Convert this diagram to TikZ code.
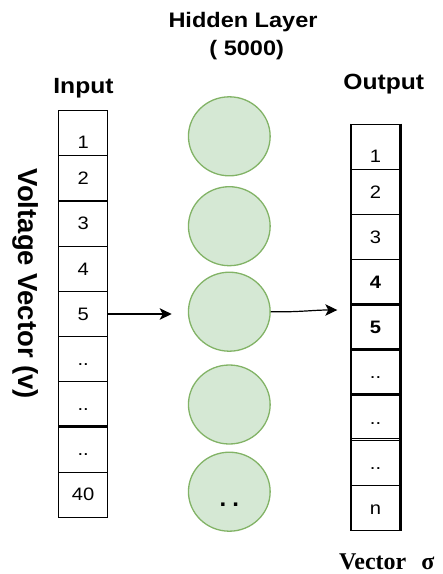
\documentclass[tikz,border=0pt]{standalone}
\usepackage{fontspec}
\setmainfont{Liberation Sans}
\newfontfamily\serifb{Liberation Serif}
\usepackage{graphicx}
\usetikzlibrary{shapes.geometric,arrows.meta}
\definecolor{nfill}{HTML}{D5E8D4}
\definecolor{nline}{HTML}{82B366}
\newcommand{\hs}[1]{\scalebox{1.12}[1]{#1}}
\tikzset{
  cell/.style={draw, line width=1.2pt, minimum width=49pt, minimum height=45.18pt,
    inner sep=0pt, font=\fontsize{18}{18}\selectfont, text height=12.5pt, text depth=0pt},
  firstcell/.style={cell, text height=31pt},
  neuron/.style={ellipse, draw=nline, fill=nfill, line width=1.3pt,
    minimum width=81.7pt, minimum height=79pt, inner sep=0pt},
  arr/.style={line width=1.2pt, -{Stealth[length=12pt,width=11.5pt,inset=3pt]}},
  head/.style={font=\fontsize{22}{22}\selectfont\bfseries, inner sep=0pt, anchor=base},
  thickline/.style={line width=2.2pt},
}
\begin{document}
\begin{tikzpicture}[x=1pt,y=-1pt]
\useasboundingbox (0,0) rectangle (443,574);

% titles
\node[head, font=\fontsize{21}{21}\selectfont\bfseries] (hl) at (243,27.7) {\hs{Hidden Layer}};
\node[head, font=\fontsize{21}{21}\selectfont\bfseries] (hn) at (246.7,55) {\hs{( 5000)}};
\node[head] (tin) at (83.5,93.3) {\hs{Input}};
\node[head] (tout) at (383.8,89.3) {\hs{Output}};
\node[font=\fontsize{27.5}{27.5}\selectfont\bfseries, rotate=-90, inner sep=0pt] (vv) at (26,284) {Voltage Vector (v)};
\node[font=\fontsize{24}{24}\selectfont\serifb\bfseries, anchor=base west, inner sep=0pt, text depth=0pt] (vs) at (339,569.5) {Vector\hspace{15pt}σ};

% input column
\node[firstcell] (in1) at (83.2,133.29) {\hs{1}};
\node[cell] (in2) at (83.2,178.47) {\hs{2}};
\node[cell] (in3) at (83.2,223.65) {\hs{3}};
\node[cell] (in4) at (83.2,268.83) {\hs{4}};
\node[cell] (in5) at (83.2,314.01) {\hs{5}};
\node[cell] (in6) at (83.2,359.19) {\hs{..}};
\node[cell] (in7) at (83.2,404.37) {\hs{..}};
\node[cell] (in8) at (83.2,449.55) {\hs{..}};
\node[cell] (in9) at (83.2,494.73) {\hs{40}};
\draw[thickline] (in8.north west) -- (in8.north east);

% output column
\node[firstcell] (out1) at (375.5,146.88) {\hs{1}};
\node[cell] (out2) at (375.5,192.03) {\hs{2}};
\node[cell] (out3) at (375.5,237.18) {\hs{3}};
\node[cell] (out4) at (375.5,282.33) {\hs{\textbf{4}}};
\node[cell] (out5) at (375.5,327.48) {\hs{\textbf{5}}};
\node[cell] (out6) at (375.5,372.63) {\hs{..}};
\node[cell] (out7) at (375.5,417.78) {\hs{..}};
\node[cell] (out8) at (375.5,462.93) {\hs{..}};
\node[cell] (out9) at (375.5,508.08) {\hs{n}};
\draw[thickline] (out5.north west) -- (out5.north east);
\draw[thickline] (out6.north west) -- (out6.north east);
\draw[thickline] (out7.north west) -- (out7.north east);
\draw[line width=0.9pt] ([yshift=1.2pt]out8.north west) -- ([yshift=1.2pt]out8.north east);
\draw[line width=0.9pt] ([yshift=-1.2pt]out8.north west) -- ([yshift=-1.2pt]out8.north east);
\draw[line width=1.8pt] (out1.north west) -- (out9.south west);
\draw[line width=1.8pt] (out1.north east) -- (out9.south east);

% hidden layer
\node[neuron] (h1) at (229.3,136.3) {};
\node[neuron] (h2) at (229.3,226.2) {};
\node[neuron] (h3) at (229.3,311.7) {};
\node[neuron] (h4) at (229.3,404.5) {};
\node[neuron, font=\fontsize{24}{24}\selectfont\bfseries, text height=30pt, text depth=0pt] (h5) at (229.3,491.7) {.\hspace{6pt}.};

% connectors
\coordinate (a1) at (171.7,314.01);
\coordinate (a2) at (337.3,310);
\draw[arr] (in5.east) -- (a1);
\draw[arr] (h3.east) .. controls (300,312.3) and (312,310) .. (a2);
\end{tikzpicture}
\end{document}
